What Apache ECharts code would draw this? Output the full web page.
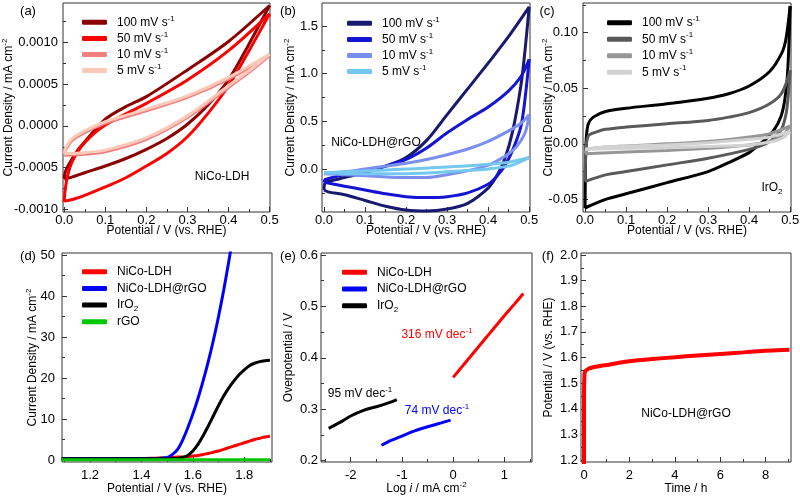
<!DOCTYPE html>
<html><head><meta charset="utf-8">
<script src="https://cdn.jsdelivr.net/npm/echarts@6/dist/echarts.min.js"></script>
<style>html,body{margin:0;padding:0;background:#fff}#c{width:800px;height:497px}</style>
</head><body><div id="c"></div>
<script>
const FONT = '"Liberation Sans", Arial, Helvetica, sans-serif';

// ---------------- (a) NiCo-LDH CV: [V, j] ----------------
const a100Fwd = [[0,-0.00063],[0.002,-0.00056],[0.01,-0.00047],[0.03,-0.00031],[0.05,-0.00019],[0.1,0.00008],[0.15,0.00023],[0.2,0.00035],[0.3,0.00067],[0.4,0.00101],[0.5,0.00144]];
const a100Rev = [[0.5,0.00144],[0.45,0.00098],[0.4,0.00055],[0.35,0.00025],[0.3,0.00002],[0.25,-0.00015],[0.2,-0.00028],[0.15,-0.00039],[0.1,-0.00048],[0.05,-0.00056],[0.02,-0.00061],[0,-0.00064]];
const a50Fwd = [[0,-0.00091],[0.002,-0.00078],[0.008,-0.0006],[0.02,-0.00042],[0.05,-0.0002],[0.1,0.00001],[0.2,0.00027],[0.3,0.00055],[0.4,0.0009],[0.5,0.00134]];
const a50Rev = [[0.5,0.00134],[0.45,0.0009],[0.4,0.00048],[0.35,0.00015],[0.3,-0.00013],[0.25,-0.00033],[0.2,-0.00048],[0.15,-0.00062],[0.1,-0.00073],[0.05,-0.00083],[0.02,-0.00088],[0,-0.0009]];
const a10Fwd = [[0,-0.00035],[0.005,-0.00027],[0.02,-0.00017],[0.05,-0.00008],[0.1,0.00003],[0.2,0.00018],[0.3,0.00034],[0.4,0.00056],[0.5,0.00084]];
const a10Rev = [[0.5,0.00084],[0.45,0.00064],[0.4,0.00046],[0.3,0.0001],[0.2,-0.00016],[0.1,-0.00031],[0.05,-0.00034],[0,-0.00035]];
const a5Fwd = [[0,-0.00033],[0.005,-0.00025],[0.02,-0.00015],[0.05,-0.00006],[0.1,0.00005],[0.2,0.0002],[0.3,0.00036],[0.4,0.00058],[0.5,0.00086]];
const a5Rev = [[0.5,0.00086],[0.45,0.00066],[0.4,0.00048],[0.3,0.00012],[0.2,-0.00014],[0.1,-0.00029],[0.05,-0.00032],[0,-0.00033]];

// ---------------- (b) NiCo-LDH@rGO CV ----------------
const b100Fwd = [[0,-0.22],[0.003,-0.14],[0.02,-0.12],[0.05,-0.09],[0.1,-0.04],[0.15,0.03],[0.2,0.12],[0.25,0.3],[0.3,0.57],[0.35,0.84],[0.4,1.11],[0.45,1.39],[0.5,1.7]];
const b100Rev = [[0.5,1.7],[0.49,1.25],[0.48,0.88],[0.46,0.4],[0.44,0.1],[0.42,-0.08],[0.4,-0.2],[0.35,-0.36],[0.3,-0.42],[0.25,-0.44],[0.2,-0.43],[0.15,-0.39],[0.1,-0.33],[0.05,-0.27],[0.01,-0.24],[0,-0.22]];
const b50Fwd = [[0,-0.14],[0.003,-0.11],[0.05,-0.06],[0.1,-0.02],[0.15,0.03],[0.2,0.1],[0.25,0.22],[0.3,0.38],[0.35,0.52],[0.4,0.65],[0.45,0.82],[0.48,0.97],[0.5,1.15]];
const b50Rev = [[0.5,1.15],[0.49,0.74],[0.48,0.45],[0.46,0.2],[0.44,0.03],[0.42,-0.08],[0.4,-0.16],[0.35,-0.25],[0.3,-0.29],[0.25,-0.3],[0.2,-0.29],[0.15,-0.26],[0.1,-0.22],[0.05,-0.18],[0,-0.14]];
const b10Fwd = [[0,-0.05],[0.05,-0.03],[0.1,0],[0.15,0.03],[0.2,0.06],[0.25,0.1],[0.3,0.15],[0.35,0.21],[0.4,0.29],[0.45,0.4],[0.48,0.48],[0.5,0.57]];
const b10Rev = [[0.5,0.57],[0.49,0.38],[0.47,0.24],[0.45,0.16],[0.42,0.08],[0.4,0.04],[0.35,-0.02],[0.3,-0.06],[0.25,-0.09],[0.2,-0.09],[0.1,-0.07],[0.05,-0.06],[0,-0.05]];
const b5Fwd = [[0,-0.04],[0.1,-0.02],[0.2,0],[0.3,0.02],[0.4,0.05],[0.45,0.07],[0.5,0.12]];
const b5Rev = [[0.5,0.12],[0.47,0.06],[0.45,0.03],[0.4,0],[0.3,-0.03],[0.2,-0.05],[0.1,-0.05],[0,-0.04]];

// ---------------- (c) IrO2 CV ----------------
const c100Fwd = [[0,-0.058],[0.001,-0.02],[0.003,0.005],[0.008,0.018],[0.02,0.024],[0.05,0.029],[0.1,0.032],[0.2,0.036],[0.3,0.041],[0.35,0.045],[0.4,0.052],[0.45,0.065],[0.48,0.082],[0.49,0.095],[0.5,0.124]];
const c100Rev = [[0.5,0.124],[0.497,0.09],[0.493,0.06],[0.487,0.04],[0.478,0.025],[0.46,0.012],[0.44,0.004],[0.42,-0.002],[0.4,-0.008],[0.35,-0.017],[0.3,-0.025],[0.2,-0.035],[0.1,-0.045],[0.05,-0.05],[0.01,-0.056],[0,-0.058]];
const c50Fwd = [[0,-0.034],[0.002,-0.005],[0.005,0.004],[0.01,0.008],[0.03,0.011],[0.05,0.013],[0.1,0.015],[0.2,0.018],[0.3,0.021],[0.35,0.024],[0.4,0.028],[0.45,0.036],[0.48,0.046],[0.5,0.066]];
const c50Rev = [[0.5,0.066],[0.495,0.042],[0.49,0.027],[0.48,0.014],[0.46,0.005],[0.44,0],[0.4,-0.005],[0.3,-0.013],[0.2,-0.019],[0.1,-0.025],[0.05,-0.028],[0,-0.034]];
const c10Fwd = [[0,-0.009],[0.005,-0.005],[0.05,-0.003],[0.1,-0.002],[0.2,0],[0.3,0.002],[0.4,0.006],[0.45,0.009],[0.5,0.016]];
const c10Rev = [[0.5,0.016],[0.48,0.007],[0.45,0.002],[0.4,-0.001],[0.3,-0.004],[0.2,-0.006],[0.1,-0.0075],[0,-0.009]];
const c5Fwd = [[0,-0.005],[0.05,-0.003],[0.1,-0.002],[0.2,-0.001],[0.3,0.001],[0.4,0.004],[0.45,0.006],[0.5,0.011]];
const c5Rev = [[0.5,0.011],[0.48,0.005],[0.45,0.0015],[0.4,-0.001],[0.3,-0.0025],[0.2,-0.0035],[0.1,-0.004],[0,-0.005]];

// ---------------- (d) LSV ----------------
const dPotential = [1.09,1.2,1.3,1.4,1.45,1.5,1.52,1.54,1.56,1.58,1.6,1.62,1.64,1.66,1.68,1.7,1.72,1.74,1.76,1.78,1.8,1.82,1.84,1.86,1.88,1.9];
const dLDH  = [0.25,0.25,0.3,0.35,0.45,0.55,0.6,0.7,0.75,0.85,0.95,1.1,1.35,1.6,1.9,2.2,2.6,3.0,3.4,3.8,4.2,4.6,5.0,5.3,5.6,5.8];
const dLDHrGO = [0.3,0.3,0.3,0.3,0.35,0.6,1.3,2.5,4.8,7.8,11.2,15.0,19.3,24.0,29.2,35.0,41.4,48.5,56.0];
const dIrO2 = [0.3,0.3,0.3,0.3,0.3,0.3,0.35,0.4,0.6,1.1,2.2,3.8,5.9,8.3,10.8,13.3,15.6,17.6,19.3,20.8,22.0,23.0,23.6,24.0,24.2,24.3];
const dGO   = [0.05,0.05,0.05,0.05,0.05,0.05,0.05,0.05,0.05,0.05,0.05,0.05,0.05,0.05,0.05,0.05,0.05,0.05,0.05,0.05,0.05,0.05,0.05,0.05,0.05,0.05];

// ---------------- (e) Tafel: [log i, overpotential] ----------------
const eLDH = [[0.0,0.362],[0.1,0.374],[0.25,0.392],[0.5,0.422],[0.75,0.452],[1.0,0.482],[1.2,0.505],[1.37,0.525]];
const eLDHrGO = [[-1.4,0.23],[-1.2,0.24],[-1.0,0.248],[-0.75,0.258],[-0.5,0.266],[-0.25,0.273],[-0.05,0.279]];
const eIrO2 = [[-2.43,0.263],[-2.2,0.275],[-2.0,0.287],[-1.75,0.298],[-1.5,0.305],[-1.25,0.313],[-1.1,0.319]];

// ---------------- (f) Chronopotentiometry ----------------
const fTime = [0,0,0.02,0.05,0.1,0.2,0.4,0.7,1,2,3,4,5,6,7,8,9.05];
const fPotential = [1.15,1.45,1.535,1.545,1.55,1.556,1.562,1.567,1.571,1.585,1.594,1.601,1.608,1.614,1.62,1.626,1.63];

// ---------------- tick values ----------------
const cvXTicks = [0,0.1,0.2,0.3,0.4,0.5];
const cvXMinor = [0.05,0.15,0.25,0.35,0.45];
const aYTicks = [-0.001,-0.0005,0,0.0005,0.001];
const aYMinor = [-0.00075,-0.00025,0.00025,0.00075,0.00125];
const bYTicks = [0,0.5,1.0,1.5];
const bYMinor = [-0.25,0.25,0.75,1.25];
const cYTicks = [-0.05,0,0.05,0.1];
const cYMinor = [-0.025,0.025,0.075,0.125];
const dXTicks = [1.2,1.4,1.6,1.8];
const dXMinor = [1.1,1.3,1.5,1.7,1.9];
const dYTicks = [0,10,20,30,40,50];
const dYMinor = [5,15,25,35,45];
const eXTicks = [-2,-1,0,1];
const eXMinor = [-2.5,-1.5,-0.5,0.5,1.5];
const eYTicks = [0.2,0.3,0.4,0.5,0.6];
const eYMinor = [0.25,0.35,0.45,0.55];
const fXTicks = [0,2,4,6,8];
const fXMinor = [1,3,5,7,9];
const fYTicks = [1.2,1.3,1.4,1.5,1.6,1.7,1.8,1.9,2.0];
const fYMinor = [1.25,1.35,1.45,1.55,1.65,1.75,1.85,1.95];

const scanLabels = ['100 mV s{sup|-1}','50 mV s{sup|-1}','10 mV s{sup|-1}','5 mV s{sup|-1}'];

const RICH = {
  sup:{fontSize:8,lineHeight:8,verticalAlign:'top',fontFamily:FONT},
  sub:{fontSize:8,lineHeight:8,verticalAlign:'bottom',fontFamily:FONT},
  it:{fontSize:12,fontStyle:'italic',fontFamily:FONT}
};

const POT = 'Potential / V (vs. RHE)';
const CD = 'Current Density / mA cm{sup|-2}';
const panels = [
  {grid:{left:63,top:3,width:207,height:209},
   x:{min:-0.003,max:0.501,major:cvXTicks,minor:cvXMinor,dec:1,margin:2,name:POT,gap:11},
   y:{min:-0.00103,max:0.00147,major:aYTicks,minor:aYMinor,dec:4,margin:5,name:CD,gap:46}},
  {grid:{left:322,top:3,width:208,height:209},
   x:{min:-0.005,max:0.502,major:cvXTicks,minor:cvXMinor,dec:1,margin:2,name:POT,gap:11},
   y:{min:-0.451,max:1.741,major:bYTicks,minor:bYMinor,dec:1,margin:4,name:CD,gap:23}},
  {grid:{left:583,top:3,width:208,height:209},
   x:{min:-0.005,max:0.502,major:cvXTicks,minor:cvXMinor,dec:1,margin:2,name:POT,gap:11},
   y:{min:-0.0614,max:0.1267,major:cYTicks,minor:cYMinor,dec:2,margin:5,name:CD,gap:26}},
  {grid:{left:62,top:253,width:210,height:209},
   x:{min:1.091,max:1.908,major:dXTicks,minor:dXMinor,dec:1,margin:7,name:POT,gap:19},
   y:{min:-0.49,max:50.49,major:dYTicks,minor:dYMinor,dec:0,margin:7,name:CD,gap:21}},
  {grid:{left:321,top:253,width:211,height:209},
   x:{min:-2.58,max:1.54,major:eXTicks,minor:eXMinor,dec:0,margin:7,name:'Log {it|i} / mA cm{sup|-2}',gap:19},
   y:{min:0.1975,max:0.6039,major:eYTicks,minor:eYMinor,dec:1,margin:3,name:'Overpotential / V',gap:24}},
  {grid:{left:581,top:253,width:210,height:209},
   x:{min:-0.132,max:9.115,major:fXTicks,minor:fXMinor,dec:0,margin:7,name:'Time / h',gap:19},
   y:{min:1.1922,max:2.0078,major:fYTicks,minor:fYMinor,dec:1,margin:3,name:POT,gap:24}}
];

function mainAxis(gi, dim, c){
  return {type:'value', gridIndex:gi, position: dim==='x'?'bottom':'left', min:c.min, max:c.max,
    name:c.name, nameLocation:'middle', nameGap:c.gap, nameMoveOverlap:false, nameRotate: dim==='y'?90:0,
    nameTextStyle:{fontFamily:FONT,fontSize:12,color:'#000',lineHeight:16,rich:RICH},
    axisLine:{show:false,onZero:false},
    axisTick:{show:true,inside:true,length:5,customValues:c.major,lineStyle:{color:'#333',width:1}},
    axisLabel:{show:true,customValues:c.major,margin:c.margin,fontFamily:FONT,fontSize:13,color:'#000',
      formatter:v=>Number(v).toFixed(c.dec)},
    splitLine:{show:false}, minorTick:{show:false}, silent:true};
}
function minorAxis(gi, dim, c){
  return {type:'value', gridIndex:gi, position: dim==='x'?'bottom':'left', min:c.min, max:c.max,
    axisLine:{show:false,onZero:false},
    axisTick:{show:true,inside:true,length:3,customValues:c.minor,lineStyle:{color:'#333',width:1}},
    axisLabel:{show:false}, splitLine:{show:false}, silent:true};
}
const grids = panels.map(p=>Object.assign({show:true,borderColor:'#333',borderWidth:1,backgroundColor:'transparent',containLabel:false,outerBoundsMode:'none'},p.grid));
const xAxes = panels.map((p,i)=>mainAxis(i,'x',p.x)).concat(panels.map((p,i)=>minorAxis(i,'x',p.x)));
const yAxes = panels.map((p,i)=>mainAxis(i,'y',p.y)).concat(panels.map((p,i)=>minorAxis(i,'y',p.y)));

function line(name, gi, data, color, width){
  return {type:'line', name, xAxisIndex:gi, yAxisIndex:gi, data, showSymbol:false, symbol:'none',
    smooth:0.3, lineStyle:{color,width}, itemStyle:{color}, emphasis:{disabled:true}, silent:true, animation:false, clip:true};
}
const zip = (xs, ys) => ys.map((y,i)=>[xs[i], y]);

const series = [];
const aCols = ['#8b0000','#ff0000','#f08080','#ffc8b8'];
const bCols = ['#191970','#1414d2','#7b8ff0','#74c8f0'];
const cCols = ['#000000','#5a5a5a','#969696','#d2d2d2'];
[[a100Fwd,a100Rev],[a50Fwd,a50Rev],[a10Fwd,a10Rev],[a5Fwd,a5Rev]].forEach((br,k)=>{
  br.forEach(d=>series.push(line('a'+k,0,d,aCols[k],3)));
});
[[b100Fwd,b100Rev],[b50Fwd,b50Rev],[b10Fwd,b10Rev],[b5Fwd,b5Rev]].forEach((br,k)=>{
  br.forEach(d=>series.push(line('b'+k,1,d,bCols[k],3)));
});
[[c100Fwd,c100Rev],[c50Fwd,c50Rev],[c10Fwd,c10Rev],[c5Fwd,c5Rev]].forEach((br,k)=>{
  br.forEach(d=>series.push(line('c'+k,2,d,cCols[k],3)));
});
series.push(line('d0',3,zip(dPotential,dLDH),'#ff0000',3));
series.push(line('d1',3,zip(dPotential,dLDHrGO),'#0000ff',3));
series.push(line('d2',3,zip(dPotential,dIrO2),'#000000',3));
series.push(line('d3',3,zip(dPotential,dGO),'#00c800',3));
series.push(line('e0',4,eLDH,'#ff0000',3));
series.push(line('e1',4,eLDHrGO,'#0000ff',3));
series.push(line('e2',4,eIrO2,'#000000',3));
series.push(Object.assign(line('f0',5,zip(fTime,fPotential),'#ff0000',4),{smooth:0.2}));

const legendLabels = {a0:scanLabels[0],a1:scanLabels[1],a2:scanLabels[2],a3:scanLabels[3],
  b0:scanLabels[0],b1:scanLabels[1],b2:scanLabels[2],b3:scanLabels[3],
  c0:scanLabels[0],c1:scanLabels[1],c2:scanLabels[2],c3:scanLabels[3],
  d0:'NiCo-LDH',d1:'NiCo-LDH@rGO',d2:'IrO{sub|2}',d3:'rGO',
  e0:'NiCo-LDH',e1:'NiCo-LDH@rGO',e2:'IrO{sub|2}'};
function legend(names,left,top,gap){
  return {show:true,orient:'vertical',left,top,padding:0,itemWidth:25,itemHeight:5,itemGap:gap,icon:'roundRect',
    data:names,selectedMode:false,formatter:n=>legendLabels[n],
    textStyle:{fontFamily:FONT,fontSize:12,color:'#000',lineHeight:16,padding:[0,0,0,5],rich:RICH}};
}
const legends = [
  legend(['a0','a1','a2','a3'],82,14.3,0.1),
  legend(['b0','b1','b2','b3'],347,15.3,0.1),
  legend(['c0','c1','c2','c3'],607,14.7,0.5),
  legend(['d0','d1','d2','d3'],82,263.7,0.7),
  legend(['e0','e1','e2'],342,264.3,0.7)
];

function txt(text,x,y,color,size){
  return {type:'text',x,y,silent:true,z:100,style:{text,fill:color,fontFamily:FONT,fontSize:size,align:'center',verticalAlign:'middle',lineHeight:16,
    rich:{sup:{fontSize:8,lineHeight:8,verticalAlign:'top',fontFamily:FONT,fill:color},sub:{fontSize:8,lineHeight:8,verticalAlign:'bottom',fontFamily:FONT,fill:color}}}};
}
const graphics = [
  txt('(a)',28,11,'#000',13), txt('(b)',288,11,'#000',13), txt('(c)',547,11,'#000',13),
  txt('(d)',28,256,'#000',13), txt('(e)',288,256,'#000',13), txt('(f)',548,256,'#000',13),
  txt('NiCo-LDH',222,177,'#000',12),
  txt('NiCo-LDH@rGO',376,143,'#000',12),
  txt('IrO{sub|2}',772,188,'#000',12),
  txt('316 mV dec{sup|-1}',437,335,'#ff0000',12),
  txt('95 mV dec{sup|-1}',360,394,'#000',12),
  txt('74 mV dec{sup|-1}',437,411,'#0000ff',12),
  txt('NiCo-LDH@rGO',686,414,'#000',12)
];

const chart = echarts.init(document.getElementById('c'), null, {renderer:'canvas'});
chart.setOption({animation:false, backgroundColor:'#fff', grid:grids, xAxis:xAxes, yAxis:yAxes,
  legend:legends, series, graphic:graphics, tooltip:{show:false}});
</script></body></html>
